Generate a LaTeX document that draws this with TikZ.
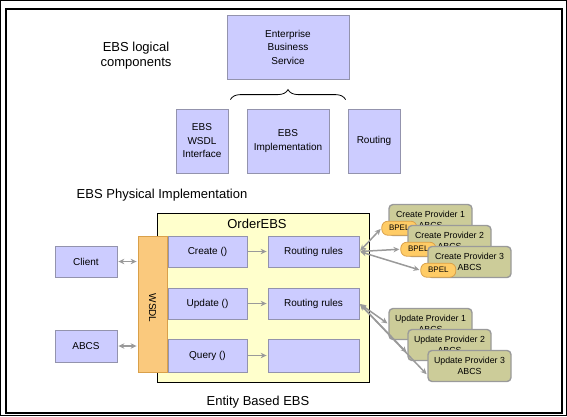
\documentclass[tikz,border=0pt]{standalone}
\usepackage{fontspec}
\setmainfont{Liberation Sans}
\usepackage{tikz}
\usetikzlibrary{arrows.meta,positioning,calc,decorations.pathreplacing}
\definecolor{ebslav}{HTML}{CCCCFF}
\definecolor{ebsedge}{HTML}{9393AD}
\definecolor{ebsyellow}{HTML}{FFFFCC}
\definecolor{ebsorange}{HTML}{FAC97D}
\definecolor{ebsorline}{HTML}{D9A04A}
\definecolor{ebskhaki}{HTML}{CCCC99}
\definecolor{ebsgrey}{HTML}{9A9A9A}
\definecolor{ebsbpel}{HTML}{FFCC66}

\begin{document}
\begin{tikzpicture}[x=1pt,y=-1pt,>={Stealth[length=6pt,width=5.5pt]},
    comp/.style={draw=ebsedge,fill=ebslav,line width=0.8pt,align=center,inner sep=0pt,font=\fontsize{10}{13.5}\selectfont},
    op/.style={draw=ebsedge,fill=ebslav,line width=0.8pt,minimum width=79pt,minimum height=31pt,inner sep=0pt,font=\fontsize{10}{12}\selectfont},
    prov/.style={draw=ebsgrey,fill=ebskhaki,line width=1.4pt,rounded corners=4pt,minimum width=83pt,minimum height=31pt,inner sep=0pt,align=center,font=\fontsize{8.8}{11}\selectfont},
    bpel/.style={draw=ebsorline,fill=ebsbpel,line width=0.8pt,rounded corners=6pt,minimum width=35pt,minimum height=14pt,inner sep=0pt,font=\fontsize{8}{9}\selectfont},
    link/.style={ebsgrey,line width=1.5pt,shorten <=1pt,shorten >=1pt},
    heading/.style={font=\fontsize{13}{15}\selectfont}]
    \useasboundingbox (0,0) rectangle (567,416);
    \draw[line width=1pt] (0.5,0.5) rectangle (566.5,415.5);
    \draw[line width=1.2pt] (6,9) rectangle (562,413);
    % logical view
    \node[heading,align=center] (logic) at (136,56) {EBS logical\\components};
    \node[comp,minimum width=122pt,minimum height=64pt] (ebs) at (288,47) {Enterprise\\Business\\Service};
    \node[comp,minimum width=52pt,minimum height=64pt] (wsdli) at (202,141) {EBS\\WSDL\\Interface};
    \node[comp,minimum width=82pt,minimum height=64pt] (impl) at (288,141) {EBS\\Implementation};
    \node[comp,minimum width=52pt,minimum height=64pt] (rout) at (374,141) {Routing};
    \draw[line width=0.8pt,decorate,decoration={brace,amplitude=10pt}]
      ($(wsdli.north east)+(2,-9)$) -- ($(rout.north west)+(-2,-9)$);
    % physical view
    \node[heading,anchor=base] (phys) at (162,198) {EBS Physical Implementation};
    \node[draw,fill=ebsyellow,line width=1pt,minimum width=212pt,minimum height=169pt,inner sep=0pt] (order) at (263,297.5) {};
    \node[heading,anchor=base] (ordert) at (257,228) {OrderEBS};
    \node[draw=ebsorline,fill=ebsorange,line width=0.8pt,minimum width=29pt,minimum height=136pt,inner sep=0pt] (wsdl) at (152.5,304) {};
    \node[rotate=-90,font=\fontsize{10}{12}\selectfont] (wsdlt) at ($(wsdl.center)+(0,4)$) {WSDL};
    \node[op] (create) at (207.5,251.5) {Create ()};
    \node[op] (update) at (207.5,303.5) {Update ()};
    \node[op,minimum height=33pt] (query) at (207.5,355.5) {Query ()};
    \node[op,minimum width=91pt] (rr1) at (313.5,251.5) {Routing rules};
    \node[op,minimum width=91pt] (rr2) at (313.5,303.5) {Routing rules};
    \node[op,minimum width=91pt,minimum height=33pt] (rr3) at (313.5,355.5) {};
    \node[op,minimum width=62pt] (client) at (86,261.5) {Client};
    \node[op,minimum width=62pt,minimum height=32pt] (abcs) at (86,346) {ABCS};
    \node[heading,anchor=base] (ent) at (258,405) {Entity Based EBS};
    % providers
    \foreach \i/\px/\py in {1/430.5/220,2/449.5/241,3/469.5/262}{
      \node[prov] (cp\i) at (\px,\py) {Create Provider \i\\ABCS};
      \node[bpel] (bp\i) at ($(cp\i.south west)+(11,-8)$) {BPEL};
    }
    \foreach \i/\px/\py in {1/430.5/324,2/449.5/345,3/469.5/366}
      \node[prov] (up\i) at (\px,\py) {Update Provider \i\\ABCS};
    % connectors
    \draw[link,<->] (client.east) -- (client.east -| wsdl.west);
    \draw[link,<->] (abcs.east) -- (abcs.east -| wsdl.west);
    \draw[link,->] (create) -- (rr1);
    \draw[link,->] (update) -- (rr2);
    \draw[link,->] (query) -- (rr3);
    \foreach \i in {1,2,3}
      \draw[link,<->] (rr1.east) -- (bp\i.west);
    \draw[link,<->] (rr2.east) -- (up1.west);
    \draw[link,<->] (rr2.east) -- (up2.191);
    \draw[link,<->] (rr2.east) -- (up3.192);
  \end{tikzpicture}
\end{document}
